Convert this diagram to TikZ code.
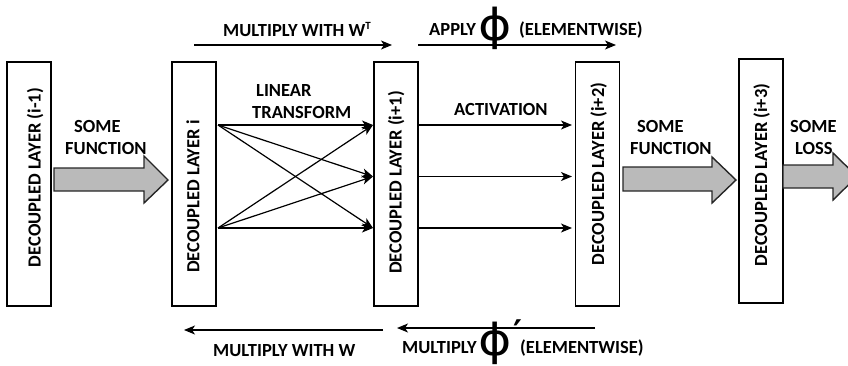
\documentclass[tikz,border=0pt]{standalone}
\usepackage{fontspec}
\setmainfont{Carlito}
\newfontfamily\phifont{DejaVu Sans}
\usetikzlibrary{arrows.meta}
\begin{document}
\begin{tikzpicture}[x=1pt,y=-1pt,
  layerbox/.style={draw, line width=1.8pt, minimum width=44pt, minimum height=244pt, inner sep=0pt, fill=white},
  vlabel/.style={rotate=90, anchor=base, inner sep=0pt, font=\fontsize{18.5}{20}\selectfont\bfseries},
  lbl/.style={anchor=base west, inner sep=0pt, font=\fontsize{18.5}{20}\selectfont\bfseries},
  thinarrow/.style={line width=1.2pt, -{Stealth[length=11pt,width=9pt,inset=3pt]}},
  fatarrow/.style={draw=black!85, line width=1.4pt, fill=black!27, line join=miter},
  phistyle/.style={inner sep=0pt, font=\phifont\fontsize{44}{44}\selectfont}]
\useasboundingbox (0,0) rectangle (848,365);
\clip (0,0) rectangle (848,365);
% layer boxes
\node[layerbox] (A) at (29,184) {};
\node[layerbox] (B) at (194,184) {};
\node[layerbox] (C) at (396,184) {};
\node[layerbox] (D) at (597.5,184) {};
\node[layerbox] (E) at (761,181) {};
\node[vlabel] (tA) at (40.7,177.5) {DECOUPLED LAYER (i-1)};
\node[vlabel] (tB) at (199.3,196.5) {DECOUPLED LAYER i};
\node[vlabel] (tC) at (401.7,182.5) {DECOUPLED LAYER (i+1)};
\node[vlabel] (tD) at (604,174) {DECOUPLED LAYER (i+2)};
\node[vlabel] (tE) at (767,175) {DECOUPLED LAYER (i+3)};
% fat arrows
\draw[fatarrow] (54,168) -- (144,168) -- (144,156) -- (168,180) -- (144,203) -- (144,191) -- (54,191) -- cycle;
\draw[fatarrow] (623,167) -- (712,167) -- (712,157) -- (736,180) -- (712,203) -- (712,191) -- (623,191) -- cycle;
\draw[fatarrow] (783,165) -- (833,165) -- (833,153) -- (857,176.5) -- (833,200) -- (833,188) -- (783,188) -- cycle;
% coordinates for thin connectors
\coordinate (b1) at (218,125);
\coordinate (b2) at (218,228);
\coordinate (c1) at (373,125);
\coordinate (c2) at (373,176.5);
\coordinate (c3) at (373,228);
\coordinate (co1) at (418,125);
\coordinate (co2) at (418,176.5);
\coordinate (co3) at (418,228);
\coordinate (d1) at (572,125);
\coordinate (d2) at (572,176.5);
\coordinate (d3) at (572,228);
\foreach \s in {b1,b2}{\foreach \t in {c1,c2,c3}{\draw[thinarrow] (\s) -- (\t);}}
\draw[thinarrow] (co1) -- (d1);
\draw[thinarrow] (co2) -- (d2);
\draw[thinarrow] (co3) -- (d3);
% top and bottom arrows
\coordinate (t1s) at (194,45);
\coordinate (t1e) at (392,45);
\coordinate (t2s) at (418,45);
\coordinate (t2e) at (616,45);
\coordinate (u1s) at (383,330);
\coordinate (u1e) at (184,330);
\coordinate (u2s) at (595,328);
\coordinate (u2e) at (397,328);
\draw[thinarrow] (t1s) -- (t1e);
\draw[thinarrow] (t2s) -- (t2e);
\draw[thinarrow] (u1s) -- (u1e);
\draw[thinarrow] (u2s) -- (u2e);
% labels
\node[lbl] (l1) at (223,36) {MULTIPLY WITH W\raisebox{7pt}{\fontsize{11}{11}\selectfont T}};
\node[lbl] (l2) at (429,35) {APPLY};
\node[phistyle] (phi1) at (495,28) {\scalebox{1.15}[1]{ϕ}};
\node[lbl] (l3) at (519,35) {(ELEMENTWISE)};
\node[lbl] (l4) at (256,96) {LINEAR};
\node[lbl] (l5) at (252,118) {TRANSFORM};
\node[lbl] (l6) at (74,132) {SOME};
\node[lbl] (l7) at (65,154) {FUNCTION};
\node[lbl] (l8) at (454,115) {ACTIVATION};
\node[lbl] (l9) at (637,132) {SOME};
\node[lbl] (l10) at (630,154) {FUNCTION};
\node[lbl] (l11) at (790,132) {SOME};
\node[lbl] (l12) at (795,154) {LOSS};
\node[lbl] (l13) at (213,356) {MULTIPLY WITH W};
\node[lbl] (l14) at (402,353) {MULTIPLY};
\node[phistyle] (phi2) at (495,343) {\scalebox{1.15}[1]{ϕ}};
\node[inner sep=0pt, font=\phifont\bfseries\fontsize{34}{34}\selectfont] (pr) at (518,332) {′};
\node[lbl] (l15) at (520,353) {(ELEMENTWISE)};
\end{tikzpicture}
\end{document}
